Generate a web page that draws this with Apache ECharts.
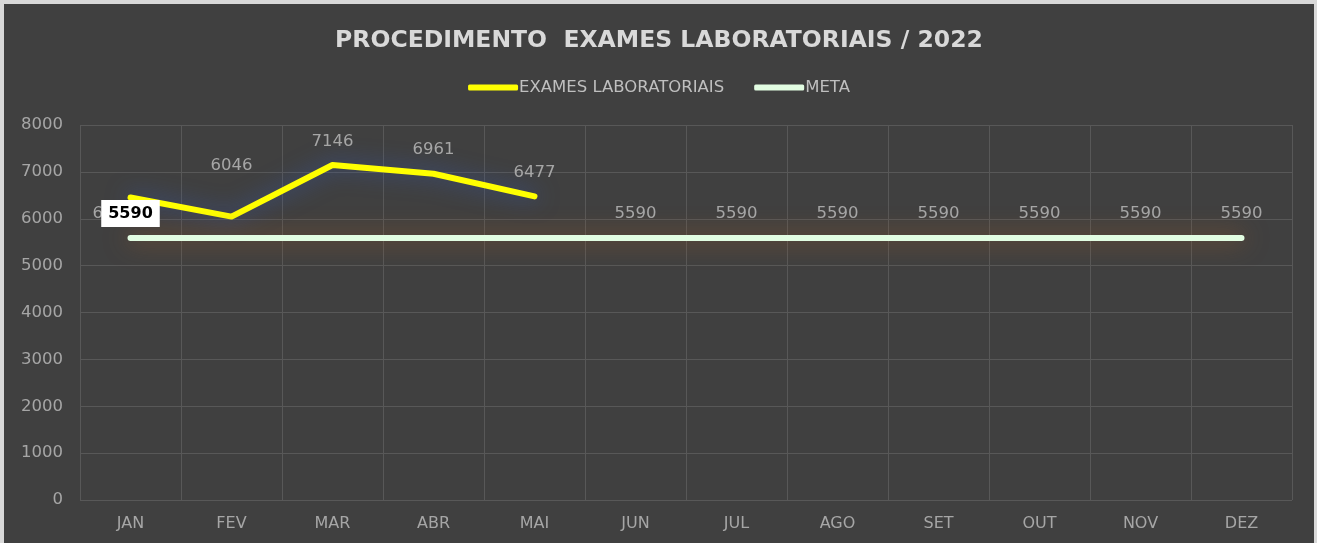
<!DOCTYPE html>
<html>
<head>
<meta charset="utf-8">
<script src="https://cdn.jsdelivr.net/npm/echarts@6/dist/echarts.min.js"></script>
<style>
    html, body { margin: 0; padding: 0; background: #d9d9d9; }
    #chart { position: absolute; left: 4px; top: 4px; width: 1310px; height: 539px; background: #404040; }
</style>
</head>
<body>
<div id="chart"></div>
<script>
// dados
var meses = ['JAN','FEV','MAR','ABR','MAI','JUN','JUL','AGO','SET','OUT','NOV','DEZ'];
var exames = [6452, 6046, 7146, 6961, 6477];
var meta = [5590, 5590, 5590, 5590, 5590, 5590, 5590, 5590, 5590, 5590, 5590, 5590];
var metaComRotulo = [true, false, false, false, false, true, true, true, true, true, true, true];
var yTicks = [0, 1000, 2000, 3000, 4000, 5000, 6000, 7000, 8000];

var chart = echarts.init(document.getElementById('chart'));
var fonte = '"DejaVu Sans", "Noto Sans", sans-serif';

var examesData = exames.map(function (v, i) {
    var item = { value: v };
    if (i === 0) {
        // rótulo de JAN fica por baixo da caixa da meta
        item.label = { offset: [-17, 40] };
    } else if (i === 1) {
        item.label = { offset: [0, -27] };
    }
    return item;
});

var metaData = meta.map(function (v, i) {
    var item = { value: v };
    if (!metaComRotulo[i]) {
        item.label = { show: false };
    } else if (i === 0) {
        item.label = {
            show: true,
            backgroundColor: '#ffffff',
            color: '#000000',
            fontWeight: 'bold',
            fontSize: 16,
            padding: [6, 7, 5, 7],
            offset: [0, 5]
        };
    }
    return item;
});

var option = {
    backgroundColor: '#404040',
    textStyle: { fontFamily: fonte },
    title: {
        text: 'PROCEDIMENTO  EXAMES LABORATORIAIS / 2022',
        left: 'center',
        top: 20,
        textStyle: {
            color: '#d9d9d9',
            fontSize: 23.5,
            fontWeight: 'bold',
            fontFamily: fonte
        }
    },
    legend: {
        top: 70,
        left: 'center',
        itemWidth: 50,
        itemHeight: 6,
        itemGap: 30,
        icon: 'roundRect',
        textStyle: { color: '#bfbfbf', fontSize: 16.5, padding: [0, 0, 0, -4] },
        data: [
            { name: 'EXAMES LABORATORIAIS', itemStyle: { color: '#ffff00' } },
            { name: 'META', itemStyle: { color: '#e2fde2' } }
        ]
    },
    grid: {
        left: 76,
        right: 22,
        top: 121,
        bottom: 43,
        containLabel: false
    },
    xAxis: {
        type: 'category',
        data: meses,
        boundaryGap: true,
        axisLine: { show: false },
        axisTick: { show: false },
        axisLabel: { color: '#a6a6a6', fontSize: 16, margin: 16 },
        splitLine: { show: true, interval: 0, lineStyle: { color: '#585858', width: 1 } }
    },
    yAxis: {
        type: 'value',
        min: yTicks[0],
        max: yTicks[yTicks.length - 1],
        interval: 1000,
        axisLine: { show: false },
        axisTick: { show: false },
        axisLabel: { color: '#a6a6a6', fontSize: 16.5, margin: 17, formatter: function (v) { return String(v); } },
        splitLine: { lineStyle: { color: '#585858', width: 1 } }
    },
    series: [
        {
            name: 'EXAMES LABORATORIAIS',
            type: 'line',
            data: examesData,
            symbol: 'circle',
            symbolSize: 0,
            showSymbol: true,
            z: 3,
            lineStyle: {
                color: '#ffff00',
                width: 6,
                cap: 'round',
                join: 'round',
                shadowColor: 'rgba(55,85,160,0.9)',
                shadowBlur: 22
            },
            itemStyle: { color: '#ffff00' },
            label: {
                show: true,
                position: 'top',
                distance: 15,
                color: '#a6a6a6',
                fontSize: 16.5
            }
        },
        {
            name: 'META',
            type: 'line',
            data: metaData,
            symbol: 'circle',
            symbolSize: 0,
            showSymbol: true,
            z: 4,
            lineStyle: {
                color: '#e2fde2',
                width: 6,
                cap: 'round',
                shadowColor: 'rgba(150,90,40,0.95)',
                shadowBlur: 24
            },
            itemStyle: { color: '#e2fde2' },
            label: {
                show: true,
                position: 'top',
                distance: 16,
                color: '#a6a6a6',
                fontSize: 16.5
            }
        }
    ]
};

chart.setOption(option);
</script>
</body>
</html>
